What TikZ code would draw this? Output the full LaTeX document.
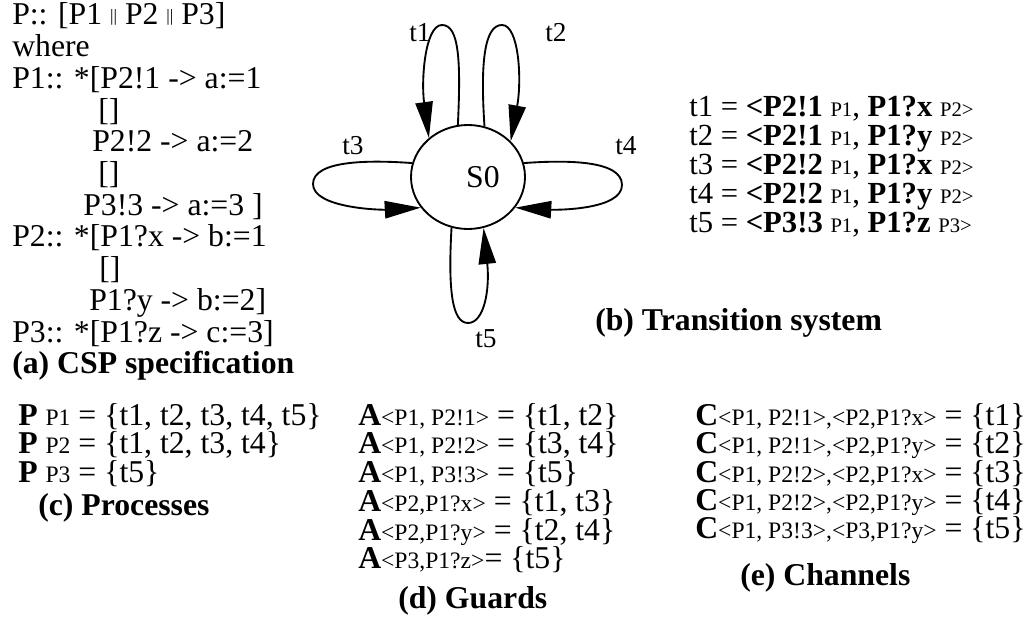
\documentclass[tikz,border=0pt]{standalone}
\usepackage{fontspec}
\setmainfont{Liberation Serif}
\usetikzlibrary{arrows.meta,shapes.geometric}
\newcommand{\smtxt}[1]{{\fontsize{17.7}{20}\selectfont #1}}
\newcommand{\smtr}[1]{{\fontsize{15.5}{18}\selectfont #1}}
\newcommand{\dbar}{\raisebox{2.8pt}{\fontsize{13}{13}\selectfont ||}}

\begin{document}
\begin{tikzpicture}[x=0.75pt,y=-0.75pt,
	every node/.style={inner sep=0pt,font=\fontsize{23.8}{26}\selectfont},
	txt/.style={anchor=base west},
	tline/.style={anchor=base west,font=\fontsize{23}{26}\selectfont},
	subcap/.style={anchor=base west,font=\fontsize{23.8}{26}\selectfont\bfseries},
	tlabel/.style={font=\fontsize{20.5}{22}\selectfont},
	state/.style={draw,ellipse,line width=1.4pt,minimum width=85.5pt,minimum height=78pt},
	tedge/.style={line width=1.4pt,-{Triangle[length=27pt,width=13pt]}}]
			\useasboundingbox (0,0) rectangle (1028,627);
			% (a) CSP specification
			\node[txt] (a1) at (12,25) {P:: [P1 \dbar{} P2 \dbar{} P3]};
			\node[txt] (a2) at (12,56.7) {where};
			\node[txt] (a3) at (12,88.4) {P1:: *[P2!1 -> a:=1};
			\node[txt] (a4) at (98,120.1) {[]};
			\node[txt] (a5) at (92,151.8) {P2!2 -> a:=2};
			\node[txt] (a6) at (98,183.5) {[]};
			\node[txt] (a7) at (83,215.2) {P3!3 -> a:=3 ]};
			\node[txt] (a8) at (12,246.9) {P2:: *[P1?x -> b:=1};
			\node[txt] (a9) at (99,278.6) {[]};
			\node[txt] (a10) at (89,310.3) {P1?y -> b:=2]};
			\node[txt] (a11) at (12,342) {P3:: *[P1?z -> c:=3]};
			\node[subcap] (acap) at (12,373.7) {(a) CSP specification};
			% (b) transition system
			\node[state] (s0) at (468,177) {};
			\node (s0txt) at (483,177) {S0};
			\draw[tedge] (s0.101) .. controls (461,60) and (459,25) .. (442,25) .. controls (425,25) and (421,80) .. (s0.135);
			\draw[tedge] (s0.72) .. controls (480,60) and (485,25) .. (502,25) .. controls (519,25) and (522,80) .. (s0.40);
			\draw[tedge] (s0.166) .. controls (370,160) and (313,160) .. (313,184) .. controls (313,208) and (380,210) .. (s0.213);
			\draw[tedge] (s0.14) .. controls (566,160) and (622,160) .. (622,185) .. controls (622,210) and (556,210) .. (s0.327);
			\draw[tedge] (s0.252) .. controls (448,290) and (452,323) .. (468,323) .. controls (484,323) and (490,290) .. (s0.287);
			\node[tlabel] (l1) at (420,33) {t1};
			\node[tlabel] (l2) at (556,33) {t2};
			\node[tlabel] (l3) at (353,146) {t3};
			\node[tlabel] (l4) at (626,146) {t4};
			\node[tlabel] (l5) at (486,339) {t5};
			\node[tline] (b1) at (689,117) {t1 = \textbf{<P2!1} \smtr{P1}, \textbf{P1?x} \smtr{P2>}};
			\node[tline] (b2) at (689,146) {t2 = \textbf{<P2!1} \smtr{P1}, \textbf{P1?y} \smtr{P2>}};
			\node[tline] (b3) at (689,175) {t3 = \textbf{<P2!2} \smtr{P1}, \textbf{P1?x} \smtr{P2>}};
			\node[tline] (b4) at (689,204) {t4 = \textbf{<P2!2} \smtr{P1}, \textbf{P1?y} \smtr{P2>}};
			\node[tline] (b5) at (689,233) {t5 = \textbf{<P3!3} \smtr{P1}, \textbf{P1?z} \smtr{P3>}};
			\node[subcap] (bcap) at (595,330) {(b) Transition system};
			% (c) processes
			\node[txt] (c1) at (18,425) {\textbf{P} \smtxt{P1} = \{t1, t2, t3, t4, t5\}};
			\node[txt] (c2) at (18,453) {\textbf{P} \smtxt{P2} = \{t1, t2, t3, t4\}};
			\node[txt] (c3) at (18,482) {\textbf{P} \smtxt{P3} = \{t5\}};
			\node[subcap] (ccap) at (38,515) {(c) Processes};
			% (d) guards
			\node[txt] (d1) at (358,425) {\textbf{A}\smtxt{<P1, P2!1>} = \{t1, t2\}};
			\node[txt] (d2) at (358,453) {\textbf{A}\smtxt{<P1, P2!2>} = \{t3, t4\}};
			\node[txt] (d3) at (358,482) {\textbf{A}\smtxt{<P1, P3!3>} = \{t5\}};
			\node[txt] (d4) at (358,511) {\textbf{A}\smtxt{<P2,P1?x>} = \{t1, t3\}};
			\node[txt] (d5) at (358,540) {\textbf{A}\smtxt{<P2,P1?y>} = \{t2, t4\}};
			\node[txt] (d6) at (358,568) {\textbf{A}\smtxt{<P3,P1?z>}= \{t5\}};
			\node[subcap] (dcap) at (398,608) {(d) Guards};
			% (e) channels
			\node[txt] (e1) at (695,425) {\textbf{C}\smtxt{<P1, P2!1>,<P2,P1?x>} = \{t1\}};
			\node[txt] (e2) at (695,453) {\textbf{C}\smtxt{<P1, P2!1>,<P2,P1?y>} = \{t2\}};
			\node[txt] (e3) at (695,482) {\textbf{C}\smtxt{<P1, P2!2>,<P2,P1?x>} = \{t3\}};
			\node[txt] (e4) at (695,510) {\textbf{C}\smtxt{<P1, P2!2>,<P2,P1?y>} = \{t4\}};
			\node[txt] (e5) at (695,538) {\textbf{C}\smtxt{<P1, P3!3>,<P3,P1?y>} = \{t5\}};
			\node[subcap] (ecap) at (740,585) {(e) Channels};
\end{tikzpicture}
\end{document}
